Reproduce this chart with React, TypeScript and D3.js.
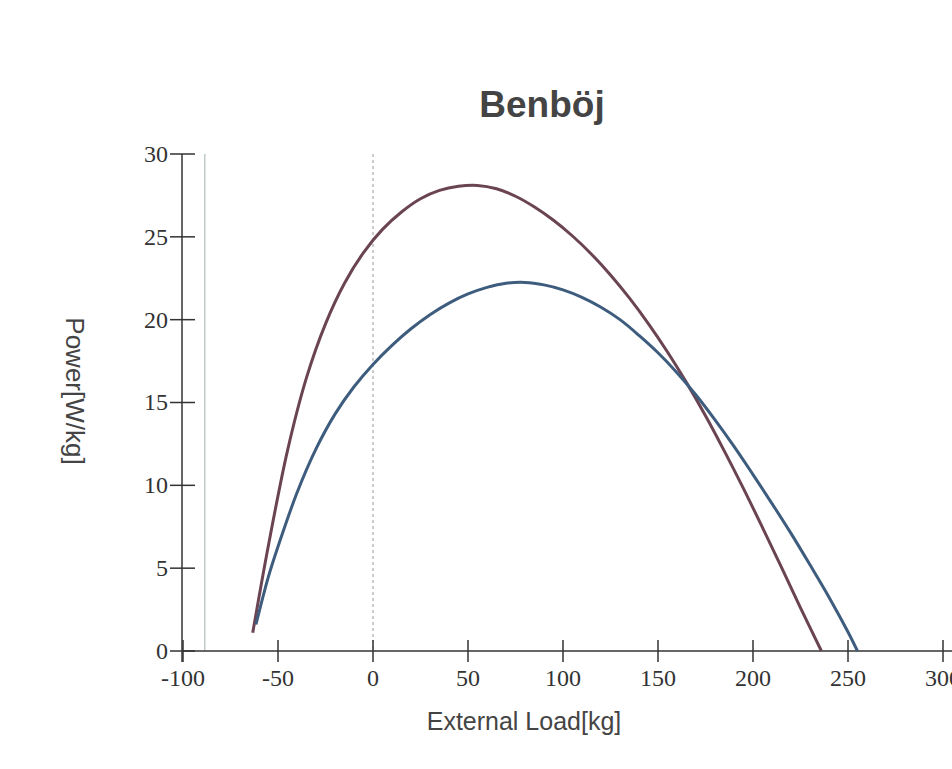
import * as d3 from 'd3';

const xTicks = [-100, -50, 0, 50, 100, 150, 200, 250, 300];
const yTicks = [0, 5, 10, 15, 20, 25, 30];

// purple curve
const loadA = [-63.3, -55, -45, -35, -25, -15, -5, 5, 15, 25, 35, 45, 55, 65, 75, 85, 95, 105, 115, 125, 135, 145, 155, 165, 175, 185, 195, 205, 215, 225, 236];
const powerA = [1.1, 6.4, 12.1, 16.5, 19.75, 22.2, 24.05, 25.45, 26.5, 27.3, 27.8, 28.05, 28.1, 27.9, 27.45, 26.8, 26.0, 25.05, 23.95, 22.7, 21.3, 19.75, 18.05, 16.2, 14.2, 12.05, 9.8, 7.45, 5.05, 2.6, 0];

// blue curve
const loadB = [-61.6, -55, -50, -40, -30, -20, -10, 0, 10, 20, 30, 40, 50, 60, 70, 80, 90, 100, 110, 120, 130, 140, 150, 160, 170, 180, 190, 200, 210, 220, 230, 240, 250, 255];
const powerB = [1.6, 4.5, 6.3, 9.55, 12.2, 14.3, 15.95, 17.3, 18.45, 19.45, 20.3, 21.0, 21.55, 21.95, 22.2, 22.25, 22.1, 21.8, 21.35, 20.75, 20.0, 19.05, 18.0, 16.8, 15.45, 13.95, 12.35, 10.65, 8.9, 7.1, 5.2, 3.25, 1.15, 0];

const refLoad = -88.5;

export default function App() {
  const x = d3.scaleLinear().domain([-100, 300]).range([183, 943]);
  const y = d3.scaleLinear().domain([0, 30]).range([651, 154]);

  const line = d3.line<[number, number]>()
    .x(d => x(d[0]))
    .y(d => y(d[1]))
    .curve(d3.curveCatmullRom.alpha(0.5));

  const ptsA = loadA.map((l, i) => [l, powerA[i]] as [number, number]);
  const ptsB = loadB.map((l, i) => [l, powerB[i]] as [number, number]);

  const axisColor = '#333';
  const serif = '"Liberation Serif", "Times New Roman", serif';
  const sans = '"Liberation Sans", Arial, sans-serif';

  return (
    <svg width={952} height={769} style={{ position: 'absolute', left: 0, top: 0, background: '#fff' }}>
      <text x={542} y={117} textAnchor="middle" fontFamily={sans} fontWeight="bold" fontSize={37} fill="#444">Benböj</text>

      {/* reference lines */}
      <line x1={x(refLoad)} x2={x(refLoad)} y1={y(30)} y2={y(0)} stroke="#9fb0b0" strokeWidth={1} />
      <line x1={x(0)} x2={x(0)} y1={y(30)} y2={y(0)} stroke="#999" strokeWidth={1} strokeDasharray="3,3" />

      {/* axes */}
      <line x1={x(-100)} x2={960} y1={y(0)} y2={y(0)} stroke={axisColor} strokeWidth={1.5} />
      <line x1={x(-100) - 1} x2={x(-100) - 1} y1={y(30)} y2={y(0) + 11} stroke={axisColor} strokeWidth={1.5} />

      {yTicks.map(t => (
        <g key={'y' + t}>
          <line x1={x(-100) - 13} x2={x(-100) + 12} y1={y(t)} y2={y(t)} stroke={axisColor} strokeWidth={1.5} />
          <text x={168} y={y(t)} dy="0.33em" textAnchor="end" fontFamily={serif} fontSize={24} fill="#333">{t}</text>
        </g>
      ))}
      {xTicks.map(t => (
        <g key={'x' + t}>
          <line x1={x(t)} x2={x(t)} y1={y(0) - 11} y2={y(0) + 11} stroke={axisColor} strokeWidth={1.5} />
          <text x={x(t)} y={686} textAnchor="middle" fontFamily={serif} fontSize={24} fill="#333">{t}</text>
        </g>
      ))}

      {/* curves */}
      <path d={line(ptsA) || ''} fill="none" stroke="#6b4453" strokeWidth={3} />
      <path d={line(ptsB) || ''} fill="none" stroke="#3e5d7e" strokeWidth={3} />

      <text x={524} y={730} textAnchor="middle" fontFamily={sans} fontSize={25} fill="#444">External Load[kg]</text>
      <text transform="translate(66,391) rotate(90)" textAnchor="middle" fontFamily={sans} fontSize={26} fill="#444">Power[W/kg]</text>
    </svg>
  );
}
